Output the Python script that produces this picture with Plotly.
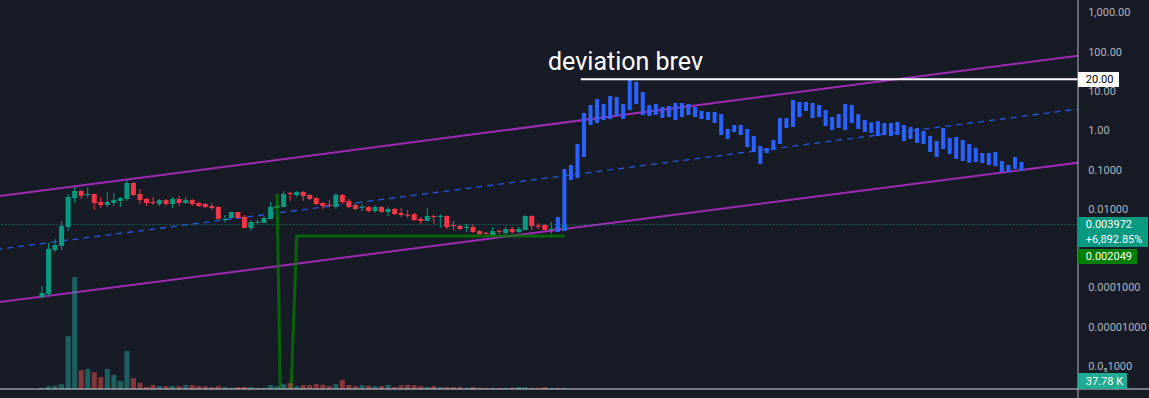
import numpy as np
import plotly.graph_objects as go

# ---------------- data ----------------
bar_index = list(range(81))
opens = [5.68e-5, 6.87e-5, 9.05e-4, 1.15e-3, 0.00348, 0.0190, 0.0287, 0.0227, 0.0241, 0.0151,
         0.0126, 0.0142, 0.0160, 0.0180, 0.0459, 0.0241, 0.0180, 0.0151, 0.0134, 0.0169,
         0.0134, 0.0180, 0.0142, 0.0169, 0.0142, 0.0134, 0.0119, 0.0112, 0.00525, 0.00590,
         0.00839, 0.00626, 0.00329, 0.00453, 0.00440, 0.00557, 0.0106, 0.0112, 0.0255, 0.0227,
         0.0271, 0.0227, 0.0190, 0.0142, 0.0126, 0.0112, 0.0227, 0.0160, 0.0126, 0.0109,
         0.0112, 0.00889, 0.0112, 0.00839, 0.0100, 0.00791, 0.00704, 0.00746, 0.00557, 0.00495,
         0.00664, 0.00626, 0.00664, 0.00392, 0.00369, 0.00338, 0.00348, 0.00275, 0.00245, 0.00218,
         0.00275, 0.00245, 0.00310, 0.00260, 0.00292, 0.00664, 0.00369, 0.00392, 0.00301, 0.00348,
         0.00292]
highs = [1.10e-4, 1.37e-3, 1.73e-3, 4.95e-3, 0.0241, 0.0363, 0.0304, 0.0363, 0.0245, 0.0202,
         0.0271, 0.0255, 0.0202, 0.0547, 0.0487, 0.0323, 0.0190, 0.0202, 0.0180, 0.0180,
         0.0202, 0.0214, 0.0202, 0.0180, 0.0151, 0.0142, 0.0142, 0.0119, 0.00704, 0.0085,
         0.0085, 0.00704, 0.00525, 0.00525, 0.00664, 0.0151, 0.0160, 0.0287, 0.0271, 0.0287,
         0.0287, 0.0241, 0.0202, 0.0151, 0.0169, 0.0255, 0.0241, 0.0180, 0.0142, 0.0134,
         0.0119, 0.0126, 0.0119, 0.0112, 0.0106, 0.0106, 0.00943, 0.00791, 0.00626, 0.0106,
         0.00704, 0.00746, 0.0068, 0.00495, 0.00392, 0.00415, 0.00415, 0.00292, 0.00260, 0.00348,
         0.00292, 0.00348, 0.00348, 0.00348, 0.00704, 0.00704, 0.00440, 0.00415, 0.00467, 0.00369,
         0.00440]
lows = [5.43e-5, 6.11e-5, 8.05e-4, 9.05e-4, 0.00275, 0.0142, 0.0180, 0.0190, 0.00943, 0.0106,
        0.0112, 0.0119, 0.0112, 0.0160, 0.0214, 0.0134, 0.0119, 0.0126, 0.0119, 0.0119,
        0.0106, 0.0119, 0.0134, 0.0119, 0.0112, 0.0106, 0.00943, 0.0055, 0.00467, 0.0058,
        0.0058, 0.00329, 0.00275, 0.00415, 0.0044, 0.0055, 0.0105, 0.0111, 0.0160, 0.0202,
        0.0160, 0.0169, 0.0126, 0.0100, 0.0112, 0.0100, 0.0134, 0.0106, 0.00943, 0.00889,
        0.00839, 0.00791, 0.00791, 0.00664, 0.00704, 0.00626, 0.00590, 0.00495, 0.00415, 0.0049,
        0.00415, 0.00329, 0.00310, 0.00292, 0.00292, 0.00260, 0.00245, 0.00218, 0.00218, 0.00215,
        0.00231, 0.00205, 0.00231, 0.00245, 0.0029, 0.00292, 0.00310, 0.0029, 0.00231, 0.00275,
        0.00275]
closes = [7.29e-5, 9.60e-4, 1.21e-3, 0.00369, 0.0202, 0.0287, 0.0214, 0.0241, 0.0142, 0.0126,
          0.0151, 0.0169, 0.0190, 0.0459, 0.0227, 0.0169, 0.0142, 0.0142, 0.0169, 0.0134,
          0.0180, 0.0142, 0.0169, 0.0134, 0.0119, 0.0112, 0.0106, 0.00557, 0.00557, 0.00839,
          0.00590, 0.00329, 0.00467, 0.00467, 0.00590, 0.0112, 0.0119, 0.0241, 0.0241, 0.0271,
          0.0214, 0.0180, 0.0134, 0.0119, 0.0123, 0.0227, 0.0151, 0.0112, 0.0100, 0.0112,
          0.00889, 0.0112, 0.00839, 0.0100, 0.00746, 0.00704, 0.00683, 0.00525, 0.00495, 0.00664,
          0.00626, 0.00664, 0.00348, 0.00369, 0.00310, 0.00348, 0.00260, 0.00231, 0.00238, 0.00275,
          0.00268, 0.00310, 0.00260, 0.00310, 0.00664, 0.00369, 0.00359, 0.00292, 0.00310, 0.00292,
          0.003972]
volume_k = [38, 96, 112, 168, 1850, 3920, 660, 705, 590, 415,
            700, 495, 285, 1325, 380, 215, 72, 138, 104, 101,
            108, 99, 142, 136, 103, 98, 66, 109, 74, 41,
            69, 75, 71, 38, 44, 139, 97, 170, 205, 102,
            143, 135, 172, 146, 108, 168, 318, 141, 99, 137,
            111, 96, 104, 142, 68, 133, 147, 139, 101, 73,
            107, 66, 72, 70, 75, 39, 68, 42, 36, 40,
            33, 39, 41, 71, 66, 37, 43, 69, 34, 40,
            37.78]

# "deviation" bars (low / high) starting at bar 79
dev_start = 79
dev_low = [0.00260, 0.00275, 0.0547, 0.0615, 0.210, 1.37, 1.54, 1.84, 1.95, 2.32,
           1.95, 3.30, 4.70, 2.47, 2.32, 2.47, 2.07, 2.19, 1.84, 2.19,
           2.47, 2.19, 1.95, 1.84, 1.54, 0.764, 0.604, 0.910, 0.764, 0.378,
           0.282, 0.140, 0.266, 0.317, 0.451, 1.15, 1.22, 2.19, 3.12, 2.07,
           2.19, 1.29, 1.02, 1.15, 1.02, 1.54, 1.09, 0.910, 0.86, 0.721, 0.764,
           0.721, 0.764, 0.537, 0.604, 0.478, 0.451, 0.282, 0.210, 0.336, 0.251,
           0.187, 0.166, 0.15, 0.157, 0.148, 0.132, 0.124, 0.0874, 0.0874, 0.104, 0.0927]
dev_high = [0.00626, 0.104, 0.132, 0.451, 2.77, 4.43, 6.29, 4.70, 7.50, 7.08,
            4.70, 19.2, 17.1, 9.48, 4.43, 4.70, 3.94, 4.18, 4.98, 4.98,
            4.70, 3.94, 3.12, 2.94, 2.94, 2.61, 1.09, 1.37, 1.37, 1.09,
            0.721, 0.401, 0.357, 0.570, 2.07, 2.07, 5.93, 5.28, 5.28, 4.98,
            4.43, 3.30, 2.19, 2.61, 4.70, 4.43, 2.61, 1.84, 1.60, 1.73, 1.54,
            1.54, 1.64, 1.37, 1.22, 1.15, 0.966, 0.721, 0.537, 1.15, 0.641,
            0.680, 0.570, 0.45, 0.357, 0.266, 0.266, 0.282, 0.166, 0.132, 0.210, 0.157]

# regression channel (log-linear) anchor values
channel_x = [-7, 159]
channel_upper = [0.0208, 81.2]
channel_lower = [4.18e-5, 0.154]
channel_basis = [9.33e-4, 3.54]

# green level line
level_x = [36, 37, 38, 39, 80]
level_y = [0.0245, 1e-12, 5e-8, 0.002049, 0.002049]

dev_level = 20.0
dev_level_x = [82.5, 159]
last_price = 0.003972
change_pct = 6892.85
level_value = 0.002049
last_volume_k = 37.78

tick_vals = [1000, 100, 10, 1, 0.1, 0.01, 0.0001, 0.00001, 0.000001]
tick_text = ["1,000.00", "100.00", "10.00", "1.00", "0.1000", "0.01000",
             "0.0001000", "0.00001000", "0.0\u20851000"]

# ---------------- styling ----------------
BG = "#171b26"
UP = "#089981"
DOWN = "#f23645"
BLUE = "#2962ff"
PURPLE = "#a02ab4"
TXT = "#b2b5be"
FONT = "Roboto, Liberation Sans, sans-serif"
LBL = 11


def segments(xs, a, b):
    X, Y = [], []
    for x, p, q in zip(xs, a, b):
        X += [x, x, None]
        Y += [p, q, None]
    return X, Y


MIN_RATIO = 1.07
fig = go.Figure()

# channel lines
for vals, col, dash, w in [(channel_upper, PURPLE, None, 2), (channel_lower, PURPLE, None, 2),
                           (channel_basis, "rgba(41,98,255,0.85)", "6px,5px", 1.3)]:
    fig.add_trace(go.Scatter(x=channel_x, y=vals, mode="lines",
                             line=dict(color=col, width=w, dash=dash), hoverinfo="skip"))

# last price dotted line
fig.add_trace(go.Scatter(x=channel_x, y=[last_price, last_price], mode="lines",
                         line=dict(color=UP, width=1, dash="1px,2px"), hoverinfo="skip"))

# candles
for up, col in [(True, UP), (False, DOWN)]:
    xs, blo, bhi, wlo, whi = [], [], [], [], []
    for i, o, h, l, c in zip(bar_index, opens, highs, lows, closes):
        if (c >= o) != up:
            continue
        lo, hi = min(o, c), max(o, c)
        if hi / lo < MIN_RATIO:
            m = (lo * hi) ** 0.5
            k = MIN_RATIO ** 0.5
            lo, hi = m / k, m * k
        xs.append(i)
        blo.append(lo)
        bhi.append(hi)
        wlo.append(l)
        whi.append(h)
    X, Y = segments(xs, wlo, whi)
    fig.add_trace(go.Scatter(x=X, y=Y, mode="lines", line=dict(color=col, width=1), hoverinfo="skip"))
    X, Y = segments(xs, blo, bhi)
    fig.add_trace(go.Scatter(x=X, y=Y, mode="lines", line=dict(color=col, width=5), hoverinfo="skip"))

# deviation bars
dev_x = list(range(dev_start, dev_start + len(dev_low)))
X, Y = segments(dev_x, dev_low, dev_high)
fig.add_trace(go.Scatter(x=X, y=Y, mode="lines", line=dict(color=BLUE, width=4), hoverinfo="skip"))

# green level
fig.add_trace(go.Scatter(x=level_x, y=level_y, mode="lines",
                         line=dict(color="rgba(0,128,0,0.72)", width=3), hoverinfo="skip"))

# white deviation level
fig.add_trace(go.Scatter(x=dev_level_x, y=[dev_level, dev_level], mode="lines",
                         line=dict(color="white", width=2), hoverinfo="skip"))

# volume
vol_colors = ["rgba(38,166,154,0.5)" if c >= o else "rgba(239,83,80,0.5)" for o, c in zip(opens, closes)]
fig.add_trace(go.Bar(x=bar_index, y=volume_k, yaxis="y2", width=0.78,
                     marker=dict(color=vol_colors, line=dict(width=0)), hoverinfo="skip"))

fig.update_layout(
    width=1149, height=398,
    margin=dict(l=0, r=71, t=0, b=9),
    paper_bgcolor=BG, plot_bgcolor=BG,
    showlegend=False, hovermode=False,
    font=dict(family=FONT, color=TXT, size=LBL),
    xaxis=dict(range=[-6.432, 158.65], visible=False, fixedrange=True),
    yaxis=dict(type="log", side="right", range=[-6.58, 3.318], showgrid=False, zeroline=False,
               tickvals=tick_vals, ticktext=tick_text, ticks="outside", ticklen=7,
               tickcolor="rgba(0,0,0,0)", tickfont=dict(color=TXT, size=LBL, family=FONT),
               showline=False, fixedrange=True),
    yaxis2=dict(overlaying="y", range=[0, 13615], visible=False, fixedrange=True),
    shapes=[
        dict(type="line", xref="paper", yref="paper", x0=0, x1=1149 / 1078, y0=0, y1=0,
             line=dict(color="#d1d4dc", width=1)),
        dict(type="line", xref="paper", yref="paper", x0=1, x1=1, y0=-9 / 389, y1=1,
             line=dict(color=TXT, width=1)),
    ],
)

NB = "\u2002\u2009"
annotations = [
    dict(x=77.2, y=np.log10(dev_level), xref="x", yref="y", xanchor="left", yanchor="bottom",
         yshift=1, text="deviation brev", showarrow=False,
         font=dict(color="white", size=25, family=FONT)),
    dict(x=1, y=np.log10(dev_level), xref="paper", yref="y", xanchor="left", yanchor="middle",
         text=NB + "20.00", showarrow=False, bgcolor="white", borderpad=0, borderwidth=0,
         width=41, height=15, align="left", font=dict(color="black", size=LBL, family=FONT)),
    dict(x=1, y=np.log10(last_price), xref="paper", yref="y", xanchor="left", yanchor="top",
         yshift=8, text=NB + f"{last_price:.6f}<br>" + NB + f"+{change_pct:,.2f}%", showarrow=False,
         bgcolor=UP, borderpad=0, borderwidth=0, width=70, height=30, align="left",
         font=dict(color="white", size=LBL, family=FONT)),
    dict(x=1, y=np.log10(level_value), xref="paper", yref="y", xanchor="left", yanchor="middle",
         yshift=-20, text=NB + f"{level_value:.6f}", showarrow=False, bgcolor="#008000",
         borderpad=0, borderwidth=0, width=59, height=15, align="left",
         font=dict(color="white", size=LBL, family=FONT)),
    dict(x=1, y=0, xref="paper", yref="paper", xanchor="left", yanchor="bottom",
         text=NB + f"{last_volume_k:.2f} K", showarrow=False, bgcolor="#22ab94",
         borderpad=0, borderwidth=0, width=49, height=16, align="left",
         font=dict(color="white", size=LBL, family=FONT)),
]
fig.update_layout(annotations=annotations)

fig.write_html("out.html", config={"displayModeBar": False, "staticPlot": True},
               post_script="document.body.style.margin='0';document.body.style.overflow='hidden';")
